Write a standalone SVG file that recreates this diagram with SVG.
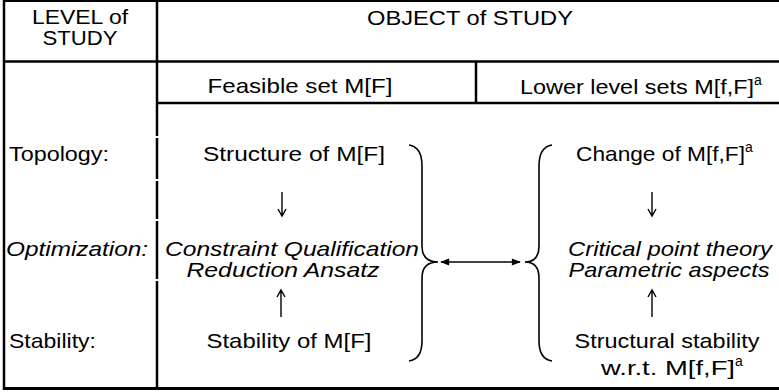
<svg xmlns="http://www.w3.org/2000/svg" width="779" height="392" viewBox="0 0 779 392">
  <style>
    .t { font-family: "Liberation Sans", Arial, sans-serif; font-size: 21px; fill: #000; }
    .c { text-anchor: middle; }
    .i { font-style: italic; }
    .sup { font-size: 14px; }
    .rule { stroke: #000; stroke-width: 2.5; fill: none; }
    .brace { stroke: #000; stroke-width: 1.6; fill: none; }
    .vart { stroke: #000; stroke-width: 1.4; fill: none; }
  </style>
  <defs>
    <marker id="head" viewBox="0 0 10 10" refX="9" refY="5" markerWidth="10" markerHeight="9" markerUnits="userSpaceOnUse" orient="auto-start-reverse">
      <path d="M0,1 L10,5 L0,9 Z" fill="#000"/>
    </marker>
  </defs>

  <rect width="779" height="392" fill="#fff"/>

  <!-- table rules -->
  <g id="table">
    <line class="rule" x1="4" y1="1" x2="779" y2="1" style="stroke-width:2"/>
    <line class="rule" x1="4" y1="0" x2="4" y2="390"/>
    <path class="rule" d="M157,0 V136 M157,138 V179 M157,181 V219 M157,221 V279 M157,281 V390"/>
    <line class="rule" x1="4" y1="61.5" x2="779" y2="61.5"/>
    <line class="rule" x1="157" y1="103" x2="779" y2="103"/>
    <line class="rule" x1="476" y1="61.5" x2="476" y2="103"/>
    <line class="rule" x1="3" y1="388.5" x2="779" y2="388.5" style="stroke-width:3"/>
  </g>

  <!-- header cells -->
  <g id="level-header">
    <text class="t c" x="80" y="24" textLength="96" lengthAdjust="spacingAndGlyphs">LEVEL of</text>
    <text class="t c" x="80" y="45" textLength="75" lengthAdjust="spacingAndGlyphs">STUDY</text>
  </g>
  <g id="object-header">
    <text class="t c" x="470" y="25" textLength="206" lengthAdjust="spacingAndGlyphs">OBJECT of STUDY</text>
  </g>
  <g id="feasible-header">
    <text class="t c" x="300" y="93" textLength="185" lengthAdjust="spacingAndGlyphs">Feasible set M[F]</text>
  </g>
  <g id="lower-header">
    <text class="t" x="520" y="94"><tspan textLength="234" lengthAdjust="spacingAndGlyphs">Lower level sets M[f,F]</tspan><tspan class="sup" dy="-9">a</tspan></text>
  </g>

  <!-- level labels -->
  <g id="levels">
    <text class="t" x="9" y="161" textLength="100" lengthAdjust="spacingAndGlyphs">Topology:</text>
    <text class="t i" x="6" y="256" textLength="142" lengthAdjust="spacingAndGlyphs">Optimization:</text>
    <text class="t" x="9" y="348" textLength="87" lengthAdjust="spacingAndGlyphs">Stability:</text>
  </g>

  <!-- feasible set column -->
  <g id="feasible-topology">
    <text class="t c" x="294" y="161" textLength="182" lengthAdjust="spacingAndGlyphs">Structure of M[F]</text>
  </g>
  <g id="feasible-optimization">
    <text class="t i c" x="292" y="256" textLength="254" lengthAdjust="spacingAndGlyphs">Constraint Qualification</text>
    <text class="t i c" x="283" y="277" textLength="193" lengthAdjust="spacingAndGlyphs">Reduction Ansatz</text>
  </g>
  <g id="feasible-stability">
    <text class="t c" x="289" y="348" textLength="165" lengthAdjust="spacingAndGlyphs">Stability of M[F]</text>
  </g>

  <!-- lower level sets column -->
  <g id="lower-topology">
    <text class="t" x="576" y="161"><tspan textLength="169" lengthAdjust="spacingAndGlyphs">Change of M[f,F]</tspan><tspan class="sup" dy="-9">a</tspan></text>
  </g>
  <g id="lower-optimization">
    <text class="t i c" x="670" y="256" textLength="204" lengthAdjust="spacingAndGlyphs">Critical point theory</text>
    <text class="t i c" x="669" y="277" textLength="201" lengthAdjust="spacingAndGlyphs">Parametric aspects</text>
  </g>
  <g id="lower-stability">
    <text class="t c" x="667" y="348" textLength="185" lengthAdjust="spacingAndGlyphs">Structural stability</text>
    <text class="t" x="601" y="375"><tspan textLength="134" lengthAdjust="spacingAndGlyphs">w.r.t. M[f,F]</tspan><tspan class="sup" dy="-9">a</tspan></text>
  </g>

  <!-- connectors: vertical arrows, braces and the double arrow -->
  <g id="connectors">
    <path class="vart" d="M282,192 V216 M278,209 L282,216 L286,209"/>
    <path class="vart" d="M652,192 V216 M648,209 L652,216 L656,209"/>
    <path class="vart" d="M281,317 V290 M277,297 L281,290 L285,297"/>
    <path class="vart" d="M652,317 V290 M648,297 L652,290 L656,297"/>
    <path class="brace" d="M409,145 Q422,147 422,166 L422,246 Q422,262 438,262 Q422,262 422,278 L422,341 Q422,359 409,361"/>
    <path class="brace" d="M552,145 Q539,147 539,166 L539,246 Q539,262 525,262 Q539,262 539,278 L539,341 Q539,359 552,361"/>
    <line x1="441" y1="262" x2="520" y2="262" stroke="#000" stroke-width="1.6" marker-start="url(#head)" marker-end="url(#head)"/>
  </g>
</svg>
